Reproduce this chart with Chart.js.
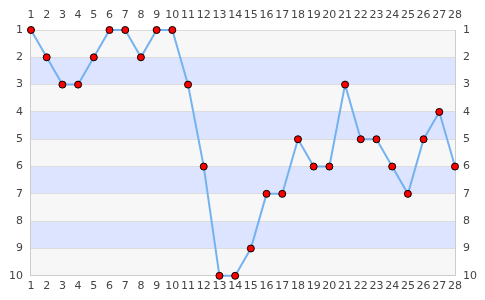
<!DOCTYPE html>
<html>
<head>
<meta charset="utf-8">
<script src="https://cdn.jsdelivr.net/npm/chart.js@4/dist/chart.umd.min.js"></script>
<style>
  html, body { margin: 0; padding: 0; background: #fff; }
  #wrap { width: 485px; height: 300px; }
</style>
</head>
<body>
<div id="wrap"><canvas id="chart"></canvas></div>
<script>
const rounds = [1, 2, 3, 4, 5, 6, 7, 8, 9, 10, 11, 12, 13, 14, 15, 16, 17, 18, 19, 20, 21, 22, 23, 24, 25, 26, 27, 28];
const positions = [1, 2, 3, 3, 2, 1, 1, 2, 1, 1, 3, 6, 10, 10, 9, 7, 7, 5, 6, 6, 3, 5, 5, 6, 7, 5, 4, 6];
const rankTicks = [1, 2, 3, 4, 5, 6, 7, 8, 9, 10];

// striped background between rank lines
const bands = {
  id: "bands",
  beforeDraw(chart) {
    const { ctx, chartArea, scales } = chart;
    const y = scales.y;
    ctx.save();
    for (let i = 0; i < rankTicks.length - 1; i++) {
      const y1 = y.getPixelForValue(rankTicks[i]);
      const y2 = y.getPixelForValue(rankTicks[i + 1]);
      ctx.fillStyle = i % 2 === 0 ? "#f7f7f7" : "#dde4ff";
      ctx.fillRect(chartArea.left, y1, chartArea.right - chartArea.left, y2 - y1);
    }
    ctx.restore();
  }
};

const tickFont = { family: "DejaVu Sans", size: 11 };

new Chart(document.getElementById("chart"), {
  type: "line",
  data: {
    labels: rounds,
    datasets: [{
      data: positions,
      borderColor: "#74b2f0",
      borderWidth: 2,
      pointBackgroundColor: "#ff0000",
      pointBorderColor: "#000",
      pointBorderWidth: 1,
      pointRadius: 3.5,
      tension: 0,
      clip: false
    }]
  },
  options: {
    responsive: true,
    maintainAspectRatio: false,
    animation: false,
    layout: { padding: { left: 1, right: 0, top: 6, bottom: 3 } },
    plugins: { legend: { display: false }, tooltip: { enabled: false } },
    scales: {
      x: {
        position: "bottom",
        offset: false,
        grid: { display: false, drawTicks: false },
        border: { color: "#ccc" },
        ticks: { color: "#444", font: tickFont, padding: 4, maxRotation: 0, autoSkip: false }
      },
      x2: {
        position: "top",
        type: "category",
        labels: rounds,
        offset: false,
        afterFit: s => { s.height = 24; },
        grid: { display: false, drawTicks: false },
        border: { display: false },
        ticks: { color: "#444", font: tickFont, padding: 8, maxRotation: 0, autoSkip: false }
      },
      y: {
        position: "left",
        reverse: true,
        min: 1,
        max: 10,
        afterBuildTicks: s => { s.ticks = rankTicks.map(v => ({ value: v })); },
        grid: { color: "#dcdcdc", drawTicks: false },
        border: { color: "#ccc" },
        ticks: { color: "#444", font: tickFont, padding: 8 }
      },
      y2: {
        position: "right",
        reverse: true,
        min: 1,
        max: 10,
        afterBuildTicks: s => { s.ticks = rankTicks.map(v => ({ value: v })); },
        grid: { display: false, drawTicks: false },
        border: { color: "#ccc" },
        ticks: { color: "#444", font: tickFont, padding: 8 }
      }
    }
  },
  plugins: [bands]
});
</script>
</body>
</html>
